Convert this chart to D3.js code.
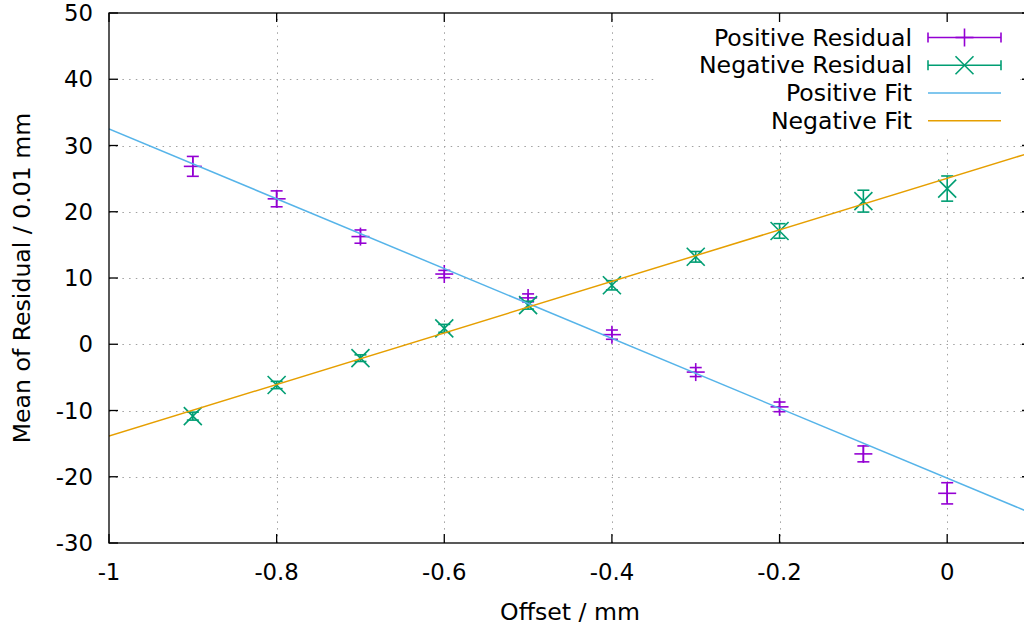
<!DOCTYPE html>
<html>
<head>
<meta charset="utf-8">
<script src="https://cdn.jsdelivr.net/npm/d3@7"></script>
<style>
html,body{margin:0;padding:0;background:#fff;}
svg{display:block;font-family:"DejaVu Sans",sans-serif;}
</style>
</head>
<body>
<svg id="chart" width="1024" height="633"></svg>
<script>
// ---- data ----
const offsets = [-0.9, -0.8, -0.7, -0.6, -0.5, -0.4, -0.3, -0.2, -0.1, 0];
const positiveMean = [26.85, 21.95, 16.25, 10.6, 7.0, 1.45, -4.2, -9.45, -16.55, -22.5];
const positiveErr = [1.5, 1.2, 1.0, 0.55, 0.6, 0.7, 0.68, 0.73, 1.2, 1.6];
const negativeMean = [-10.85, -6.15, -2.1, 2.4, 5.9, 8.9, 13.2, 17.1, 21.6, 23.5];
const negativeErr = [0.6, 0.55, 0.5, 0.6, 0.6, 0.7, 0.8, 1.1, 1.65, 1.9];
const fitX = [-1, 0.1];
const positiveFit = [32.5, -25.47];
const negativeFit = [-13.85, 28.94];
const xTicks = [-1, -0.8, -0.6, -0.4, -0.2, 0];
const xTickLabels = ["-1", "-0.8", "-0.6", "-0.4", "-0.2", "0"];
const yTicks = [-30, -20, -10, 0, 10, 20, 30, 40, 50];
const yTickLabels = ["-30", "-20", "-10", "0", "10", "20", "30", "40", "50"];
const legendLabels = ["Positive Residual", "Negative Residual", "Positive Fit", "Negative Fit"];
const colors = ["#9400d3", "#009e73", "#56b4e9", "#e69f00"];

// ---- layout ----
const L = 109, R = 1031, T = 13, B = 543;
const svg = d3.select("#chart");
const x = d3.scaleLinear().domain([-1, 0.1]).range([L, R]);
const y = d3.scaleLinear().domain([-30, 50]).range([B, T]);
const fs = 23.6, fsNum = 22.8;

// grid
const grid = svg.append("g").attr("stroke", "#a0a0a0").attr("stroke-width", 1).attr("stroke-dasharray", "1.5,5.2");
grid.selectAll("line.gx").data(xTicks.filter(d => d > -1)).join("line")
  .attr("x1", d => Math.round(x(d)) + 0.5).attr("x2", d => Math.round(x(d)) + 0.5)
  .attr("y1", B).attr("y2", T);
grid.selectAll("line.gy").data(yTicks.filter(d => d > -30 && d < 50)).join("line")
  .attr("y1", d => Math.round(y(d)) + 0.5).attr("y2", d => Math.round(y(d)) + 0.5)
  .attr("x1", L).attr("x2", R);

// opaque key area
svg.append("rect").attr("x", 655).attr("y", T + 1).attr("width", 360).attr("height", 121).attr("fill", "#fff");

// clip
svg.append("clipPath").attr("id", "clip").append("rect").attr("x", L).attr("y", T).attr("width", R - L).attr("height", B - T);
const plot = svg.append("g").attr("clip-path", "url(#clip)");

const cap = 6, ms = 9;
function errSeries(g, means, errs, color, marker) {
  const s = g.append("g").attr("stroke", color).attr("stroke-width", 1.6).attr("fill", "none");
  offsets.forEach((o, i) => {
    const cx = x(o), cy = y(means[i]), y1 = y(means[i] + errs[i]), y2 = y(means[i] - errs[i]);
    s.append("line").attr("x1", cx).attr("x2", cx).attr("y1", y1).attr("y2", y2);
    s.append("line").attr("x1", cx - cap).attr("x2", cx + cap).attr("y1", y1).attr("y2", y1);
    s.append("line").attr("x1", cx - cap).attr("x2", cx + cap).attr("y1", y2).attr("y2", y2);
    drawMarker(s, cx, cy, marker);
  });
}
function drawMarker(s, cx, cy, marker) {
  if (marker === "plus") {
    s.append("line").attr("x1", cx - ms).attr("x2", cx + ms).attr("y1", cy).attr("y2", cy);
    s.append("line").attr("x1", cx).attr("x2", cx).attr("y1", cy - ms).attr("y2", cy + ms);
  } else {
    s.append("line").attr("x1", cx - ms).attr("x2", cx + ms).attr("y1", cy - ms).attr("y2", cy + ms);
    s.append("line").attr("x1", cx - ms).attr("x2", cx + ms).attr("y1", cy + ms).attr("y2", cy - ms);
  }
}
errSeries(plot, positiveMean, positiveErr, colors[0], "plus");
errSeries(plot, negativeMean, negativeErr, colors[1], "cross");

const line = d3.line().x(d => x(d[0])).y(d => y(d[1]));
plot.append("path").datum(fitX.map((v, i) => [v, positiveFit[i]])).attr("d", line)
  .attr("stroke", colors[2]).attr("stroke-width", 1.5).attr("fill", "none");
plot.append("path").datum(fitX.map((v, i) => [v, negativeFit[i]])).attr("d", line)
  .attr("stroke", colors[3]).attr("stroke-width", 1.5).attr("fill", "none");

// border and ticks
const ax = svg.append("g").attr("stroke", "#000").attr("stroke-width", 1.3);
ax.append("rect").attr("x", L).attr("y", T).attr("width", R - L).attr("height", B - T).attr("fill", "none");
const tl = 9;
xTicks.forEach(d => {
  const px = x(d);
  ax.append("line").attr("x1", px).attr("x2", px).attr("y1", B).attr("y2", B - tl);
  ax.append("line").attr("x1", px).attr("x2", px).attr("y1", T).attr("y2", T + tl);
});
yTicks.forEach(d => {
  const py = y(d);
  ax.append("line").attr("x1", L).attr("x2", L + tl).attr("y1", py).attr("y2", py);
  ax.append("line").attr("x1", R).attr("x2", R - tl).attr("y1", py).attr("y2", py);
});

// tick labels
svg.append("g").selectAll("text").data(xTicks).join("text")
  .attr("x", d => x(d)).attr("y", 572).attr("text-anchor", "middle").attr("dominant-baseline", "central")
  .attr("font-size", fsNum).text((d, i) => xTickLabels[i]);
svg.append("g").selectAll("text").data(yTicks).join("text")
  .attr("x", 93).attr("y", d => y(d)).attr("text-anchor", "end").attr("dominant-baseline", "central")
  .attr("font-size", fsNum).text((d, i) => yTickLabels[i]);

// axis titles
svg.append("text").attr("x", 570).attr("y", 612).attr("text-anchor", "middle").attr("dominant-baseline", "central")
  .attr("font-size", fs).text("Offset / mm");
svg.append("text").attr("transform", "translate(22,278) rotate(-90)").attr("text-anchor", "middle").attr("dominant-baseline", "central")
  .attr("font-size", fs).text("Mean of Residual / 0.01 mm");

// legend
const rowY = [37.5, 65.3, 93, 120.8];
const lx1 = 928, lx2 = 1001, lmid = 964.5;
const leg = svg.append("g");
legendLabels.forEach((lab, i) => {
  leg.append("text").attr("x", 912).attr("y", rowY[i]).attr("text-anchor", "end").attr("dominant-baseline", "central")
    .attr("font-size", fs).text(lab);
  const g = leg.append("g").attr("stroke", colors[i]).attr("stroke-width", i < 2 ? 1.6 : 1.5).attr("fill", "none");
  g.append("line").attr("x1", lx1).attr("x2", lx2).attr("y1", rowY[i]).attr("y2", rowY[i]);
  if (i < 2) {
    g.append("line").attr("x1", lx1).attr("x2", lx1).attr("y1", rowY[i] - 5).attr("y2", rowY[i] + 5);
    g.append("line").attr("x1", lx2).attr("x2", lx2).attr("y1", rowY[i] - 5).attr("y2", rowY[i] + 5);
    drawMarker(g, lmid, rowY[i], i === 0 ? "plus" : "cross");
  }
});
</script>
</body>
</html>
